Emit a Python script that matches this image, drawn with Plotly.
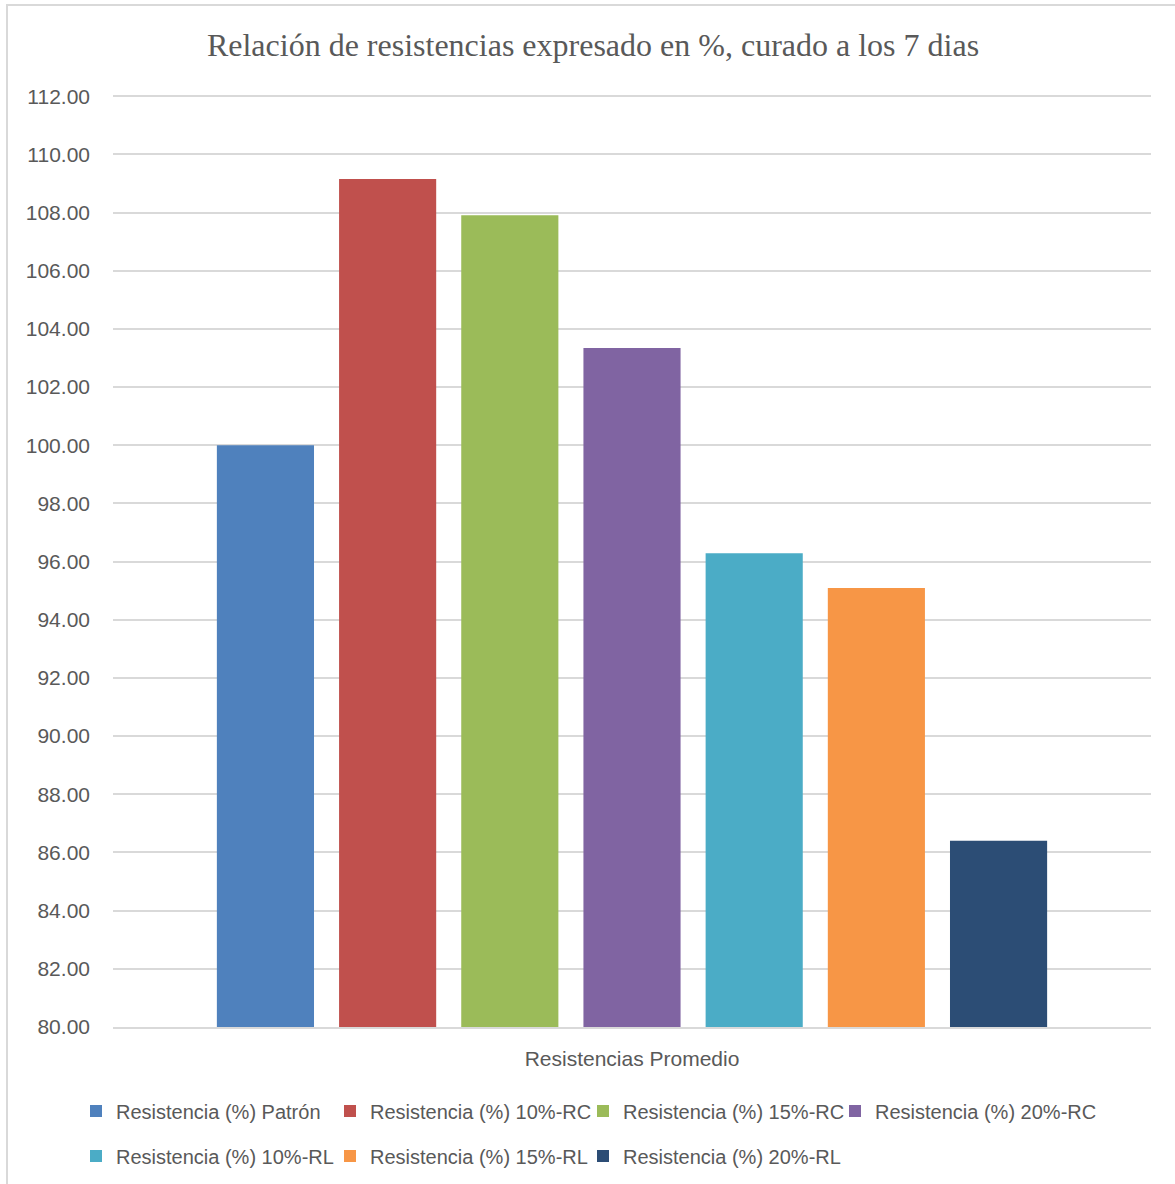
import plotly.graph_objects as go

category = ["Resistencias Promedio"]
series_names = [
    "Resistencia (%) Patrón",
    "Resistencia (%) 10%-RC",
    "Resistencia (%) 15%-RC",
    "Resistencia (%) 20%-RC",
    "Resistencia (%) 10%-RL",
    "Resistencia (%) 15%-RL",
    "Resistencia (%) 20%-RL",
]
series_values = [100.00, 109.15, 107.91, 103.34, 96.29, 95.09, 86.40]
colors = ["#4F81BD", "#C0504D", "#9BBB59", "#8064A2", "#4BACC6", "#F79646", "#2C4D75"]

W, H = 1175, 1184
L, R, T, B = 113, 24, 95, 157
pw, ph = W - L - R, H - T - B

def px_x(x):
    return (x - L) / pw

def px_y(y):
    return (H - B - y) / ph

# legend entry anchor positions (pixels): text left edge, row centre
legend_pos = [(116, 1111), (370, 1111), (623, 1111), (875, 1111),
              (116, 1156), (370, 1156), (623, 1156)]

label_font = dict(family="Liberation Sans, Arial, sans-serif", size=21, color="#595959")
legend_font = dict(family="Liberation Sans, Arial, sans-serif", size=20, color="#595959")

fig = go.Figure()
legend_layout = {}
for i, (name, val, col) in enumerate(zip(series_names, series_values, colors)):
    key = "legend" if i == 0 else f"legend{i + 1}"
    fig.add_trace(go.Bar(x=category, y=[val], name=name, marker_color=col,
                         marker_line_width=0, legend=key))
    tx, ty = legend_pos[i]
    legend_layout[key] = dict(orientation="h", xref="container", yref="container",
                              x=(tx - 40) / W, xanchor="left",
                              y=1 - ty / H, yanchor="middle", font=legend_font,
                              bgcolor="rgba(0,0,0,0)", itemclick=False,
                              itemdoubleclick=False)

fig.update_layout(
    width=W, height=H,
    margin=dict(l=L, r=R, t=T, b=B),
    paper_bgcolor="white", plot_bgcolor="white",
    barmode="group", bargap=0.176, bargroupgap=0.205,
    title=dict(text="Relación de resistencias expresado en %, curado a los 7 dias",
               font=dict(family="Liberation Serif, Times New Roman, serif", size=32, color="#595959"),
               x=593 / W, xanchor="center", y=1 - 45 / H, yanchor="middle"),
    xaxis=dict(showgrid=False, showline=True, linecolor="#d9d9d9", linewidth=2,
               tickfont=label_font, ticks="", ticklabelstandoff=12, automargin=False),
    yaxis=dict(range=[80, 112.04], tickvals=list(range(80, 113, 2)), tickformat=".2f",
               showgrid=True, gridcolor="#d9d9d9", gridwidth=1.5, zeroline=False,
               showline=False, tickfont=label_font, ticks="", ticklabelstandoff=22,
               automargin=False),
    showlegend=True,
    **legend_layout,
)

fig.add_shape(type="rect", xref="paper", yref="paper",
              x0=px_x(7), x1=px_x(1200), y0=px_y(1210), y1=px_y(5),
              line=dict(color="#d9d9d9", width=2), fillcolor="rgba(0,0,0,0)", layer="below")

fig.write_html("out.html", config={"displayModeBar": False},
               post_script="document.body.style.margin='0px';")
